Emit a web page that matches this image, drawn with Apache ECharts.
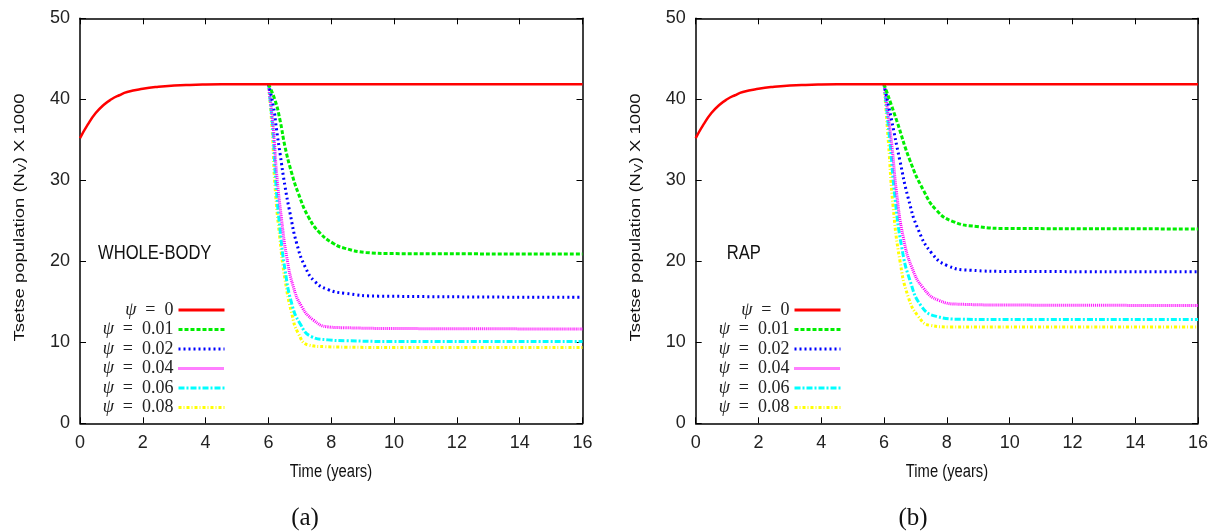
<!DOCTYPE html>
<html>
<head>
<meta charset="utf-8">
<script src="https://cdn.jsdelivr.net/npm/echarts@6/dist/echarts.min.js"></script>
<style>
  html, body { margin: 0; padding: 0; background: #fff; }
  #chart { width: 1216px; height: 532px; }
</style>
</head>
<body>
<div id="chart"></div>
<script>
// Tsetse population (thousands) against time in years, for two control methods.
const seriesNames = ['ψ = 0', 'ψ = 0.01', 'ψ = 0.02', 'ψ = 0.04', 'ψ = 0.06', 'ψ = 0.08'];
const xTicks = [0, 16, 2];   // min, max, interval (years)
const yTicks = [0, 50, 10];  // min, max, interval (thousands)

// Uncontrolled population (same in both panels)
const psi0 = [[0, 35.2], [0.25, 36.9], [0.5, 38.3], [0.75, 39.3], [1, 40.0], [1.25, 40.5],
  [1.5, 40.9], [2, 41.3], [2.5, 41.55], [3, 41.7], [3.5, 41.78], [4, 41.82], [5, 41.86],
  [6, 41.87], [16, 41.87]];

// Panel (a): whole-body treatment
const wb001 = [[6, 41.87], [6.21, 39.9], [6.37, 37.4], [6.53, 34.1], [6.74, 30.9], [6.95, 28.4],
  [7.27, 25.5], [7.64, 23.5], [8.07, 22.2], [8.44, 21.6], [9.1, 21.1], [10, 20.95], [16, 20.9]];
const wb002 = [[6, 41.87], [6.16, 39.1], [6.26, 36.2], [6.37, 33.3], [6.53, 29.2], [6.69, 25.9],
  [6.9, 22.2], [7.17, 19.3], [7.48, 17.5], [7.9, 16.5], [8.44, 16.05], [9.5, 15.7], [16, 15.55]];
const wb004 = [[6, 41.87], [6.16, 36.2], [6.26, 30.9], [6.42, 25.1], [6.58, 20.6], [6.79, 16.9],
  [7.06, 14.4], [7.43, 12.75], [7.9, 11.9], [8.44, 11.8], [10, 11.7], [16, 11.65]];
const wb006 = [[6, 41.87], [6.14, 36.2], [6.23, 30.0], [6.37, 23.9], [6.53, 18.9], [6.74, 14.8],
  [7.0, 12.35], [7.37, 10.7], [7.9, 10.3], [8.44, 10.2], [10, 10.1], [16, 10.1]];
const wb008 = [[6, 41.87], [6.12, 36.2], [6.21, 29.2], [6.37, 22.6], [6.53, 17.7], [6.74, 13.6],
  [6.95, 11.1], [7.27, 9.67], [7.8, 9.46], [8.44, 9.4], [10, 9.35], [16, 9.35]];

// Panel (b): restricted application (RAP)
const rap001 = [[6, 41.87], [6.4, 37.4], [6.82, 32.5], [7.25, 28.8], [7.67, 26.3], [8.2, 24.9],
  [8.95, 24.3], [10, 24.05], [16, 24.0]];
const rap002 = [[6, 41.87], [6.24, 37.4], [6.5, 32.5], [6.77, 27.8], [7.09, 23.9], [7.52, 21.0],
  [8.0, 19.5], [8.74, 18.9], [10, 18.75], [16, 18.7]];
const rap004 = [[6, 41.87], [6.24, 34.6], [6.4, 28.4], [6.61, 23.0], [6.88, 19.3], [7.25, 16.7],
  [7.73, 15.2], [8.42, 14.7], [10, 14.6], [16, 14.55]];
const rap006 = [[6, 41.87], [6.19, 34.6], [6.35, 27.8], [6.56, 21.8], [6.82, 17.7], [7.2, 14.4],
  [7.67, 13.2], [8.42, 12.85], [10, 12.8], [16, 12.8]];
const rap008 = [[6, 41.87], [6.14, 34.6], [6.29, 26.7], [6.5, 20.2], [6.77, 15.6], [7.09, 13.2],
  [7.46, 12.1], [8.1, 11.9], [10, 11.9], [16, 11.9]];

const lineColors = ['#ff0000', '#00ee00', '#0000ff', '#ff00ff', '#00ffff', '#ffff00'];
const lineDashes = ['solid', [4, 2], [2, 3], [1, 1], [6, 2, 2, 2], [3, 2, 1, 2]];
const lineWidths = [2.5, 3, 3, 3, 3, 3];

const sansFont = '"Liberation Sans", Arial, sans-serif';
const serifFont = '"Liberation Serif", "DejaVu Serif", serif';

const grids = [
  { left: 80, top: 18.3, width: 502.5, height: 405 },
  { left: 695.7, top: 18.3, width: 502.3, height: 405 }
];

function frameX(gridIndex, position, labelled) {
  return {
    type: 'value', gridIndex, position,
    min: xTicks[0], max: xTicks[1], interval: xTicks[2],
    axisLine: { show: true, onZero: false, lineStyle: { color: '#000', width: 1.5 } },
    axisTick: { show: true, inside: true, length: 6, lineStyle: { color: '#000', width: 1 } },
    axisLabel: { show: labelled, margin: 11, color: '#222', fontSize: 18, fontFamily: sansFont },
    splitLine: { show: false }
  };
}
function frameY(gridIndex, position, labelled) {
  return {
    type: 'value', gridIndex, position,
    min: yTicks[0], max: yTicks[1], interval: yTicks[2],
    axisLine: { show: true, onZero: false, lineStyle: { color: '#000', width: 1.5 } },
    axisTick: { show: true, inside: true, length: 6, lineStyle: { color: '#000', width: 1 } },
    axisLabel: { show: labelled, margin: 10, color: '#222', fontSize: 18, fontFamily: sansFont },
    splitLine: { show: false }
  };
}

function makeSeries(panel, datasets) {
  return datasets.map((data, i) => ({
    type: 'line', name: seriesNames[i],
    xAxisIndex: panel * 2, yAxisIndex: panel * 2,
    data, symbol: 'none', showSymbol: false, smooth: 0.5,
    lineStyle: { color: lineColors[i], width: lineWidths[i], type: lineDashes[i] },
    itemStyle: { color: lineColors[i] },
    emphasis: { disabled: true }, silent: true, z: 10 - i
  }));
}

function makeLegend(rightEdge) {
  return {
    orient: 'vertical', right: 1216 - rightEdge, top: 301, padding: 0,
    align: 'right', itemWidth: 46, itemHeight: 14, itemGap: 1.5,
    selectedMode: false, data: seriesNames,
    itemStyle: { opacity: 0, borderWidth: 0 },
    lineStyle: { width: 3, opacity: 1 },
    formatter: name => '{p|ψ}{t|' + name.slice(1).replace(/ /g, '\u2002') + '}',
    textStyle: {
      color: '#222',
      rich: {
        p: { fontFamily: serifFont, fontStyle: 'italic', fontSize: 18, lineHeight: 18, color: '#222' },
        t: { fontFamily: serifFont, fontSize: 18, lineHeight: 18, color: '#222' }
      }
    }
  };
}

// Rotated axis title with a subscript V, stretched along its length.
function yTitle(x) {
  const part = (text, px, py, size, align) => ({
    type: 'text', x: px, y: py,
    style: { text, fontFamily: sansFont, fontSize: size, fill: '#111', align, verticalAlign: 'middle' }
  });
  return {
    type: 'group', x, y: 219, rotation: Math.PI / 2, scaleX: 1.32, scaleY: 1,
    children: [
      part('Tsetse population (N', 34.8, 0, 14, 'right'),
      part('V', 35.2, 3.5, 10, 'left'),
      part(') X 1000', 42.2, 0, 14, 'left')
    ]
  };
}

function plainText(x, y, text, size, align, scaleX) {
  return {
    type: 'text', x, y, scaleX, scaleY: 1,
    style: { text, fontFamily: sansFont, fontSize: size, fill: '#111', align, verticalAlign: 'middle' }
  };
}

const chart = echarts.init(document.getElementById('chart'), null, { renderer: 'canvas' });
chart.setOption({
  animation: false,
  backgroundColor: '#fff',
  grid: grids,
  xAxis: [frameX(0, 'bottom', true), frameX(0, 'top', false), frameX(1, 'bottom', true), frameX(1, 'top', false)],
  yAxis: [frameY(0, 'left', true), frameY(0, 'right', false), frameY(1, 'left', true), frameY(1, 'right', false)],
  legend: [makeLegend(226), makeLegend(842)],
  series: [
    ...makeSeries(0, [psi0, wb001, wb002, wb004, wb006, wb008]),
    ...makeSeries(1, [psi0, rap001, rap002, rap004, rap006, rap008])
  ],
  graphic: [
    yTitle(20), yTitle(636),
    plainText(331, 472, 'Time (years)', 18, 'center', 0.82),
    plainText(947, 472, 'Time (years)', 18, 'center', 0.82),
    plainText(98, 253, 'WHOLE-BODY', 20, 'left', 0.83),
    plainText(726.7, 253, 'RAP', 20, 'left', 0.83),
    { type: 'text', x: 305, y: 518, style: { text: '(a)', fontFamily: serifFont, fontSize: 25, fill: '#111', align: 'center', verticalAlign: 'middle' } },
    { type: 'text', x: 913, y: 518, style: { text: '(b)', fontFamily: serifFont, fontSize: 25, fill: '#111', align: 'center', verticalAlign: 'middle' } }
  ]
});
</script>
</body>
</html>
